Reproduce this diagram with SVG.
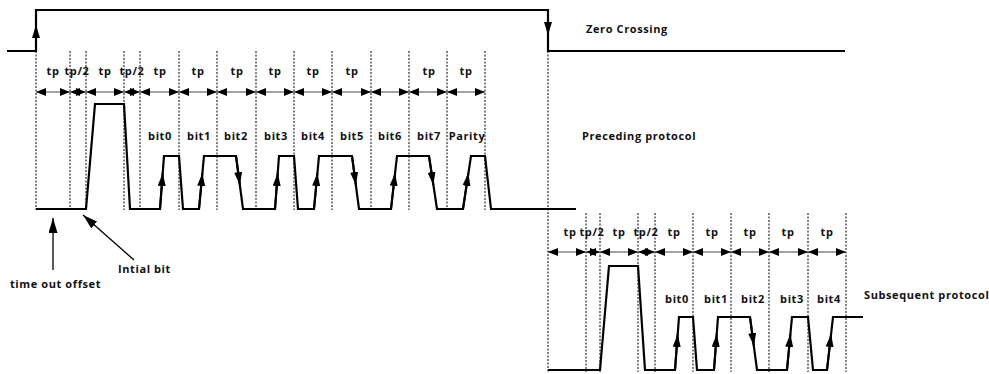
<svg xmlns="http://www.w3.org/2000/svg" width="989" height="374" viewBox="0 0 989 374">
<style>
text{font-family:"Open Sans","Noto Sans","DejaVu Sans",sans-serif;font-weight:bold;font-size:11px;fill:#111;letter-spacing:0.6px}
.m{text-anchor:middle}
.sig{fill:none;stroke:#000;stroke-width:2.2;stroke-linejoin:miter}
.dot{fill:none;stroke:#000;stroke-width:1;stroke-dasharray:2,1.5}
.dim{fill:none;stroke:#444;stroke-width:1;marker-start:url(#dh);marker-end:url(#dh)}
.edge{fill:none;stroke:#000;stroke-width:2;marker-end:url(#eh)}
.ann{fill:none;stroke:#000;stroke-width:1.3;marker-end:url(#ah)}
</style>
<defs>
<marker id="dh" markerUnits="userSpaceOnUse" markerWidth="10" markerHeight="8" refX="10" refY="4" orient="auto-start-reverse"><path d="M0,0 L10,4 L0,8 z" fill="#000"/></marker>
<marker id="eh" markerUnits="userSpaceOnUse" markerWidth="13" markerHeight="8" refX="13" refY="4" orient="auto"><path d="M0,0 L13,4 L0,8 z" fill="#000"/></marker>
<marker id="ah" markerUnits="userSpaceOnUse" markerWidth="15" markerHeight="9" refX="15" refY="4.5" orient="auto"><path d="M0,0 L15,4.5 L0,9 z" fill="#000"/></marker>
</defs>
<rect width="989" height="374" fill="#fff"/>

<g id="zero-crossing">
<path class="sig" d="M7,51 L36,51 L36,10 L548,10 L548,51 L845,51"/>
<path class="edge" d="M36,45 L36,25"/>
<path class="edge" d="M548,15 L548,35"/>
<text x="586" y="33">Zero Crossing</text>
</g>

<g id="preceding-protocol">
<path class="dot" d="M36,51 V210 M70,51 V210 M86,51 V210 M124,51 V210 M140,51 V210 M179,51 V210 M217,51 V210 M256,51 V210 M294,51 V210 M332,51 V210 M371,51 V210 M409,51 V210 M447,51 V210 M485,51 V210 M548,51 V372"/>
<path class="sig" d="M36,209 L86,209 L95,104 L124,104 L130,209 L160,209 L164,156 L179,156 L183,209 L199,209 L204,156 L236,156 L243,209 L275,209 L279,156 L294,156 L298,209 L314,209 L319,156 L352,156 L359,209 L391,209 L397,156 L429,156 L437,209 L463,209 L471,156 L485,156 L491,209 L576,209"/>
<path class="edge" d="M160,209 L162.7,173"/>
<path class="edge" d="M199,209 L202.4,173"/>
<path class="edge" d="M275,209 L277.7,173"/>
<path class="edge" d="M314,209 L317.4,173"/>
<path class="edge" d="M391,209 L395.1,173"/>
<path class="edge" d="M463,209 L468.4,173"/>
<path class="edge" d="M236,156 L239.9,185"/>
<path class="edge" d="M352,156 L355.9,185"/>
<path class="edge" d="M429,156 L433.4,185"/>
<text class="m" x="53" y="75">tp</text>
<text class="m" x="77" y="75">tp/2</text>
<text class="m" x="105" y="75">tp</text>
<text class="m" x="132" y="75">tp/2</text>
<text class="m" x="160" y="75">tp</text>
<text class="m" x="198" y="75">tp</text>
<text class="m" x="237" y="75">tp</text>
<text class="m" x="275" y="75">tp</text>
<text class="m" x="313" y="75">tp</text>
<text class="m" x="352" y="75">tp</text>
<text class="m" x="429" y="75">tp</text>
<text class="m" x="466" y="75">tp</text>
<text class="m" x="160" y="140">bit0</text>
<text class="m" x="199" y="140">bit1</text>
<text class="m" x="236" y="140">bit2</text>
<text class="m" x="276" y="140">bit3</text>
<text class="m" x="313" y="140">bit4</text>
<text class="m" x="352" y="140">bit5</text>
<text class="m" x="390" y="140">bit6</text>
<text class="m" x="429" y="140">bit7</text>
<text class="m" x="467" y="140">Parity</text>
<text x="582" y="140">Preceding protocol</text>
</g>

<g id="subsequent-protocol">
<path class="dot" d="M586,213 V372 M600,213 V372 M638,213 V372 M655,213 V372 M693,213 V372 M731,213 V372 M769,213 V372 M808,213 V372 M846,213 V372"/>
<path class="sig" d="M548,370 L600,370 L609,266 L638,266 L645,370 L675,370 L679,317 L693,317 L697,370 L714,370 L718,317 L750,317 L757,370 L787,370 L792,317 L808,317 L813,370 L827,370 L833,317 L863,317"/>
<path class="edge" d="M675,370 L677.7,334"/>
<path class="edge" d="M714,370 L716.7,334"/>
<path class="edge" d="M787,370 L790.4,334"/>
<path class="edge" d="M827,370 L831.1,334"/>
<path class="edge" d="M750,317 L753.9,346"/>
<text class="m" x="570" y="236">tp</text>
<text class="m" x="592" y="236">tp/2</text>
<text class="m" x="619" y="236">tp</text>
<text class="m" x="646" y="236">tp/2</text>
<text class="m" x="674" y="236">tp</text>
<text class="m" x="712" y="236">tp</text>
<text class="m" x="750" y="236">tp</text>
<text class="m" x="788" y="236">tp</text>
<text class="m" x="827" y="236">tp</text>
<text class="m" x="677" y="303">bit0</text>
<text class="m" x="716" y="303">bit1</text>
<text class="m" x="753" y="303">bit2</text>
<text class="m" x="792" y="303">bit3</text>
<text class="m" x="829" y="303">bit4</text>
<text x="864" y="299">Subsequent protocol</text>
</g>

<g id="annotations">
<text x="10" y="288">time out offset</text>
<text x="118" y="273">Intial bit</text>
</g>

<g id="connectors">
<path class="dim" d="M36,92 H70"/>
<path class="dim" d="M70,92 H86"/>
<path class="dim" d="M86,92 H124"/>
<path class="dim" d="M124,92 H140"/>
<path class="dim" d="M140,92 H179"/>
<path class="dim" d="M179,92 H217"/>
<path class="dim" d="M217,92 H256"/>
<path class="dim" d="M256,92 H294"/>
<path class="dim" d="M294,92 H332"/>
<path class="dim" d="M332,92 H371"/>
<path class="dim" d="M371,92 H409"/>
<path class="dim" d="M409,92 H447"/>
<path class="dim" d="M447,92 H485"/>
<path class="dim" d="M548,252 H586"/>
<path class="dim" d="M586,252 H600"/>
<path class="dim" d="M600,252 H638"/>
<path class="dim" d="M638,252 H655"/>
<path class="dim" d="M655,252 H693"/>
<path class="dim" d="M693,252 H731"/>
<path class="dim" d="M731,252 H769"/>
<path class="dim" d="M769,252 H808"/>
<path class="dim" d="M808,252 H846"/>
<path class="ann" d="M53,270 L53,218"/>
<path class="ann" d="M134,260 L83,215"/>
</g>
</svg>
